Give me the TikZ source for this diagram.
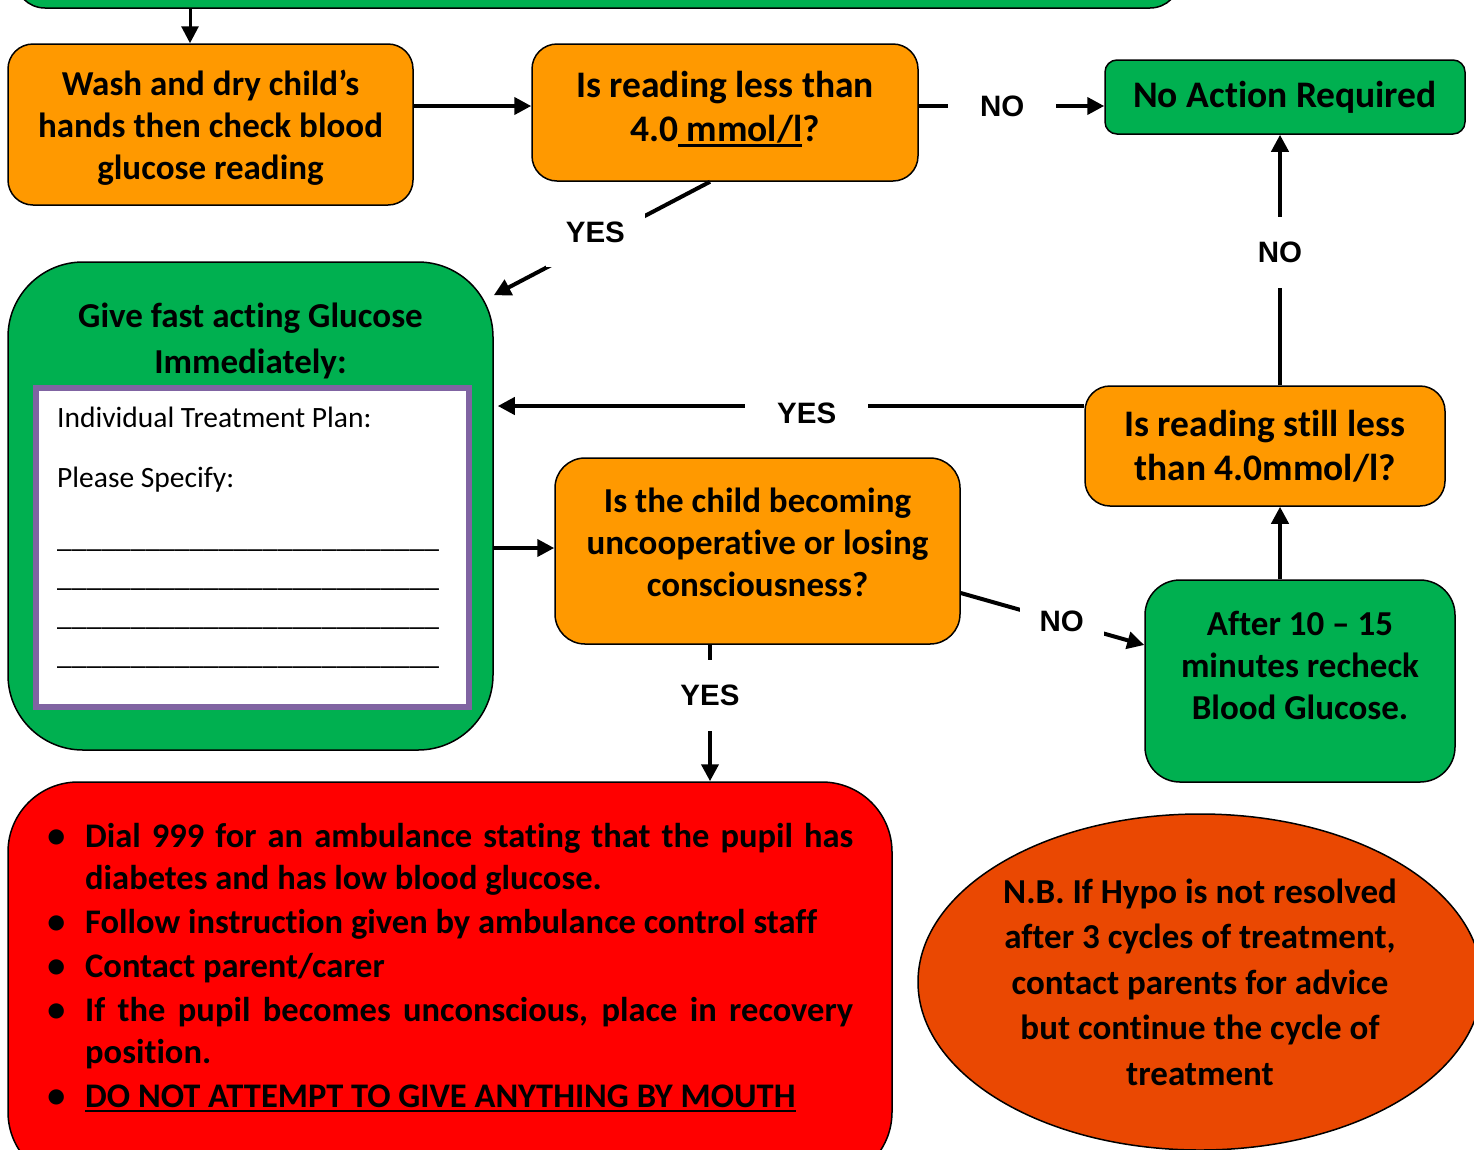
\documentclass[tikz,border=0pt]{standalone}
\usepackage{fontspec}
\setmainfont{Carlito}[Ligatures=NoCommon]
\newfontfamily\arialfont{Liberation Sans}
\usepackage{enumitem}
\usetikzlibrary{arrows.meta, shapes.geometric, positioning}

\definecolor{hypoorange}{RGB}{255,153,0}
\definecolor{hypogreen}{RGB}{0,176,80}
\definecolor{hypored}{RGB}{255,0,0}
\definecolor{hypoember}{RGB}{234,72,2}
\definecolor{planpurple}{RGB}{128,100,162}

\newcommand\hypobox{\fontsize{35}{42}\selectfont\bfseries}
\newcommand\hypobig{\fontsize{37.5}{44}\selectfont\bfseries}
\newcommand\hypolbl{\arialfont\bfseries\fontsize{29.5}{31}\selectfont}
\newcommand\hypoplan{\fontsize{29.5}{39}\selectfont}
\newcommand\hypolist{\fontsize{34.5}{42}\selectfont\bfseries}
\newcommand\hyponote{\fontsize{35}{45.5}\selectfont\bfseries}
\newsavebox\ulbox
\newcommand\thickul[1]{\leavevmode\sbox\ulbox{#1}\rlap{\rule[-5pt]{\wd\ulbox}{2.5pt}}\usebox\ulbox}
\newcommand\planline{\_\_\_\_\_\_\_\_\_\_\_\_\_\_\_\_\_\_\_\_\_\_\_\_\_\_}

\tikzset{
    box/.style = {draw, line width=1.5pt, rounded corners=25pt, align=center, inner sep=0pt, font=\hypobox},
    orangebox/.style = {box, fill=hypoorange},
    greenbox/.style = {box, fill=hypogreen},
    planbox/.style = {draw=planpurple, line width=6pt, fill=white},
    lbl/.style = {fill=white, font=\hypolbl, inner xsep=32pt, inner ysep=25pt},
    arr/.style = {line width=4pt, -{Triangle[length=17pt,width=17pt]}}
}

\begin{document}
\begin{tikzpicture}[x=1pt, y=-1pt]
  \useasboundingbox (0,0) rectangle (1474,1149);
  \clip (0,0) rectangle (1474,1149);

  % first row
  \node[greenbox, minimum width=1165, minimum height=68, rounded corners=30pt] (top) at (597.5,-26) {};
  \node[orangebox, minimum width=405, minimum height=161] (wash) at (210.5,124.5) {};
  \node[font=\hypobox, align=center] (washtext) at (210.5,128)
       {Wash and dry child’s\\hands then check blood\\glucose reading};
  \node[orangebox, minimum width=386, minimum height=137] (q1) at (725,112.5) {};
  \node[font=\hypobig, align=center] (q1text) at (725,109)
       {Is reading less than\\4.0\thickul{\ mmol/l}?};
  \node[greenbox, minimum width=360, minimum height=74, rounded corners=12pt, font=\hypobig] (noact) at (1285,97)
       {No Action Required};

  % treatment box with the plan inside
  \node[greenbox, minimum width=485, minimum height=488, rounded corners=75pt] (glucose) at (250.5,506) {};
  \node[font=\fontsize{35}{46}\selectfont\bfseries, align=center] (glucosetitle) at (250.5,341)
       {Give fast acting Glucose\\Immediately:};
  \node[planbox, minimum width=433, minimum height=319] (plan) at (252.5,547.5) {};
  \node[font=\hypoplan, align=left, anchor=north west, inner sep=0pt] (plannotes) at (57,407)
       {Individual Treatment Plan:\\[21pt]Please Specify:\\[21pt]\planline\\\planline\\\planline\\\planline};

  % checks
  \node[orangebox, minimum width=405, minimum height=186, rounded corners=30pt] (q2) at (757.5,551) {};
  \node[font=\hypobox, align=center] (q2text) at (757.5,542)
       {Is the child becoming\\uncooperative or losing\\consciousness?};
  \node[orangebox, minimum width=360, minimum height=120, font=\hypobig] (q3) at (1265,446)
       {Is reading still less\\than 4.0mmol/l?};
  \node[greenbox, minimum width=310, minimum height=202, rounded corners=35pt] (recheck) at (1300,681) {};
  \node[font=\hypobox, align=center] (rechecktext) at (1300,665)
       {After 10 – 15\\minutes recheck\\Blood Glucose.};

  % emergency
  \node[box, fill=hypored, minimum width=884, minimum height=400, rounded corners=70pt] (red) at (450,982) {};
  \node[font=\hypolist, text width=798pt, align=justify, anchor=north west, inner sep=0pt] (steps) at (55,805)
       {\begin{itemize}[leftmargin=30pt, labelsep=20pt, itemsep=2pt, topsep=0pt, parsep=0pt, partopsep=0pt,
                        label={\fontsize{36}{36}\selectfont\textbullet}]
          \item Dial 999 for an ambulance stating that the pupil has\linebreak diabetes and has low blood glucose.
          \item Follow instruction given by ambulance control staff
          \item Contact parent/carer
          \item If the pupil becomes unconscious, place in recovery\linebreak position.
          \item \thickul{DO NOT ATTEMPT TO GIVE ANYTHING BY MOUTH}
        \end{itemize}};
  \node[ellipse, draw, line width=1.5pt, fill=hypoember, minimum width=564, minimum height=336,
        inner sep=0pt, font=\hyponote, align=center] (note) at (1200,982)
       {N.B. If Hypo is not resolved\\after 3 cycles of treatment,\\contact parents for advice\\but continue the cycle of\\treatment};

  % connectors
  \draw[arr, line width=3pt] ([xshift=-20.5pt]wash.north |- top.south) -- ([xshift=-20.5pt]wash.north);
  \draw[arr] ([yshift=6.5pt]q1.west -| wash.east) -- ([yshift=6.5pt]q1.west);
  \draw[arr] ([yshift=6.5pt]q1.east) -- node[lbl, pos=0.45] {NO} ([yshift=6.5pt]q1.east -| noact.west);
  \draw[arr] ([xshift=-15pt]q1.south) -- node[lbl, pos=0.53, yshift=10pt, inner xsep=20pt] {YES} ([yshift=-34pt]glucose.north east);
  \draw[arr, shorten >=4pt] ([yshift=40pt]q3.west) -- node[lbl, pos=0.47, yshift=-7pt] {YES} ([yshift=40pt]q3.west -| glucose.east);
  \draw[arr] ([xshift=15pt]q3.north) -- node[lbl, pos=0.53] {NO} ([xshift=15pt]q3.north |- noact.south);
  \draw[arr] ([yshift=3pt]q2.west -| glucose.east) -- ([yshift=3pt]q2.west);
  \draw[arr] ([yshift=-42pt]q2.east) -- node[lbl, pos=0.55, inner xsep=20pt] {NO} ([yshift=36pt]recheck.west);
  \draw[arr] ([xshift=-20pt]recheck.north) -- ([xshift=-20pt]recheck.north |- q3.south);
  \draw[arr] ([xshift=-47.5pt]q2.south) -- node[lbl, pos=0.37] {YES} ([xshift=-47.5pt]q2.south |- red.north);
\end{tikzpicture}
\end{document}
